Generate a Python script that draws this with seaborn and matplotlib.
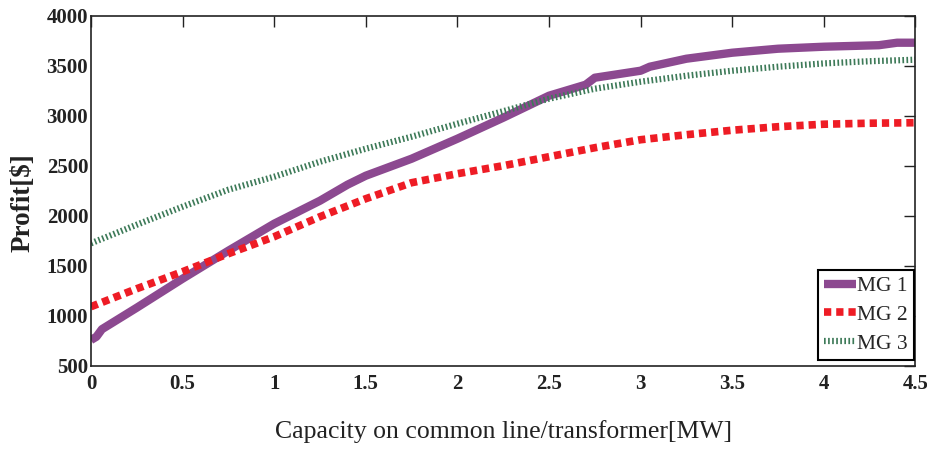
import matplotlib
matplotlib.use("Agg")
import matplotlib.pyplot as plt
import seaborn as sns
import pandas as pd

x_mg1 = [0, 0.03, 0.06, 0.25, 0.5, 0.75, 1.0, 1.25, 1.4, 1.5, 1.75, 2.0, 2.25, 2.5, 2.7, 2.75, 3.0, 3.05, 3.25, 3.5, 3.75, 4.0, 4.3, 4.4, 4.5]
y_mg1 = [757, 790, 865, 1080, 1370, 1650, 1920, 2150, 2310, 2400, 2570, 2770, 2980, 3200, 3310, 3380, 3450, 3490, 3570, 3630, 3670, 3690, 3705, 3730, 3730]

x_mg2 = [0, 0.25, 0.5, 0.75, 1.0, 1.25, 1.5, 1.75, 2.0, 2.25, 2.5, 2.75, 3.0, 3.25, 3.5, 3.75, 4.0, 4.25, 4.5]
y_mg2 = [1090, 1270, 1440, 1620, 1790, 1990, 2170, 2330, 2420, 2500, 2590, 2680, 2760, 2810, 2855, 2890, 2915, 2925, 2930]

x_mg3 = [0, 0.25, 0.5, 0.75, 1.0, 1.25, 1.5, 1.75, 2.0, 2.25, 2.5, 2.75, 3.0, 3.25, 3.5, 3.75, 4.0, 4.25, 4.5]
y_mg3 = [1724, 1910, 2090, 2260, 2390, 2540, 2670, 2790, 2920, 3045, 3170, 3270, 3340, 3400, 3450, 3490, 3523, 3545, 3560]

labels = ["MG 1", "MG 2", "MG 3"]
x_ticks = [0, 0.5, 1, 1.5, 2, 2.5, 3, 3.5, 4, 4.5]
x_ticklabels = ["0", "0.5", "1", "1.5", "2", "2.5", "3", "3.5", "4", "4.5"]
y_ticks = [500, 1000, 1500, 2000, 2500, 3000, 3500, 4000]

sns.set_style("white")
plt.rcParams["font.family"] = ["Liberation Serif", "DejaVu Serif"]

fig = plt.figure(figsize=(9.28, 4.49), dpi=100)
ax = fig.add_axes([0.098, 0.1855, 0.8885, 0.7795])

sns.lineplot(x=x_mg1, y=y_mg1, ax=ax, color="#8C4990", lw=6, label=labels[0],
             solid_capstyle="butt")
sns.lineplot(x=x_mg2, y=y_mg2, ax=ax, color="#EE1C25", lw=5.5, label=labels[1],
             linestyle=(0, (0.95, 0.65)), dash_capstyle="butt")
sns.lineplot(x=x_mg3, y=y_mg3, ax=ax, color="#3D7A58", lw=4.5, label=labels[2],
             linestyle=(0, (0.27, 0.38)), dash_capstyle="butt")

ax.set_xlim(0, 4.5)
ax.set_ylim(500, 4000)
ax.set_xticks(x_ticks)
ax.set_xticklabels(x_ticklabels)
ax.set_yticks(y_ticks)
for s in ax.spines.values():
    s.set_color("#222222")
    s.set_linewidth(1.2)
ax.tick_params(direction="in", length=8, width=1, top=True, right=True,
               labelsize=15, pad=4, colors="#222222")
for t in ax.get_xticklabels() + ax.get_yticklabels():
    t.set_fontweight("bold")
    t.set_color("#222222")
ax.tick_params(axis="y", pad=2)
ax.tick_params(axis="x", pad=6)

ax.set_xlabel("Capacity on common line/transformer[MW]", fontsize=18.5, labelpad=19, color="#222222")
ax.set_ylabel("Profit[$]", fontsize=19.5, fontweight="bold", color="#222222")
ax.yaxis.set_label_coords(-0.067, 0.466)

leg = ax.legend(loc="lower right", bbox_to_anchor=(0.998, 0.016), fontsize=15.5,
                handlelength=1.45, handletextpad=0.05,
                borderpad=0.3, labelspacing=0.4, fancybox=False, framealpha=1,
                edgecolor="black", borderaxespad=0)
leg.get_frame().set_linewidth(1.5)

fig.savefig("out.png", dpi=100)
